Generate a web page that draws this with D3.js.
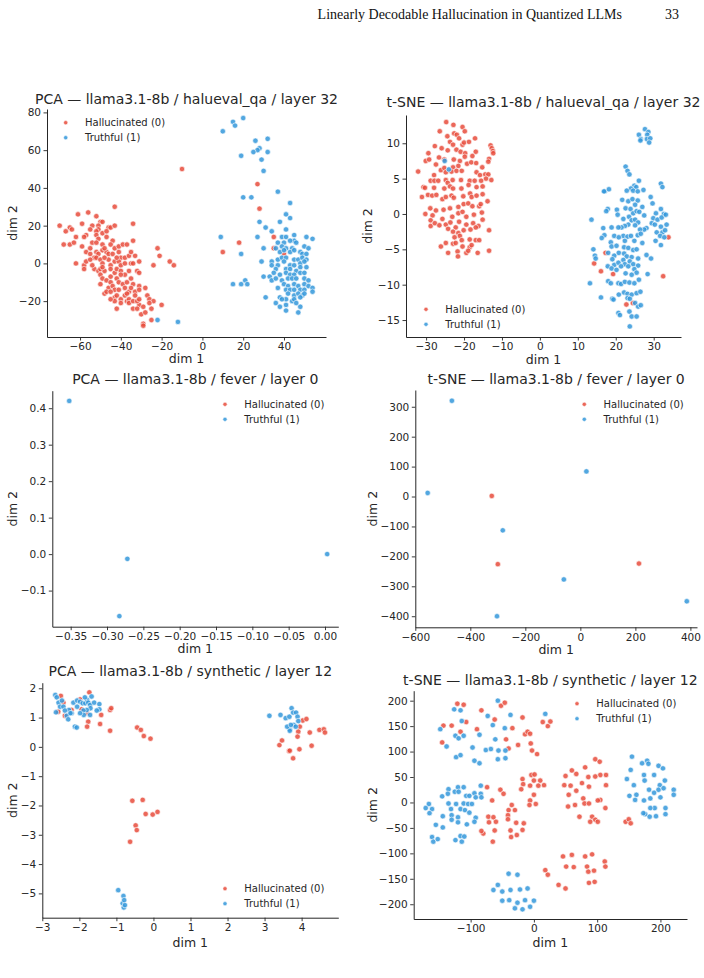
<!DOCTYPE html>
<html>
<head>
<meta charset="utf-8">
<script src="https://cdn.jsdelivr.net/npm/d3@7"></script>
<style>
  body { margin: 0; background: #fff; }
  svg { display: block; }
</style>
</head>
<body>
<div id="chart"></div>
<script>
// --- data ---------------------------------------------------------------
const seriesNames = ["Hallucinated (0)", "Truthful (1)"];

// PCA — halueval_qa / layer 32
const pcaHaluRed = [
  [-43,30],[-56,27],[-61,26],[-52,25],[-70,20],[-65,19],[-59,21],[-54,20],[-50,22],[-49,22],[-51,20],[-46,19],[-45,19],[-43,20],[-34,21],
  [-67,17],[-64,18],[-55,18],[-51,18],[-52,17],[-57,15],[-52,15],[-49,16],[-47,17],[-62,14],[-58,14],[-51,13],[-47,14],[-44,12],[-34,12],
  [-68,10],[-65,10],[-63,11],[-59,9],[-54,11],[-52,11],[-49,10],[-45,10],[-43,8],[-41,9],[-39,10],[-37,10],[-57,6],[-55,5],[-53,3],[-52,6],
  [-51,5],[-49,7],[-47,6],[-46,5],[-44,5],[-41,6],[-40,3],[-38,3],[-36,4],[-35,6],[-33,4],[-22,8],[-21,4],[-62,0],[-58,-1],[-57,1],[-55,2],
  [-52,3],[-50,2],[-49,0],[-46,2],[-45,-1],[-43,1],[-41,1],[-40,-1],[-38,0],[-35,0],[-34,0],[-31,1],[-24,-1],[-16,1],[-14,-1],[-58,-3],
  [-53,-3],[-51,-4],[-50,-3],[-48,-4],[-45,-3],[-43,-5],[-42,-3],[-40,-4],[-38,-6],[-36,-4],[-32,-4],[-31,-5],[-50,-6],[-49,-8],[-47,-9],
  [-45,-10],[-42,-8],[-41,-10],[-39,-11],[-37,-10],[-35,-8],[-34,-11],[-31,-12],[-28,-13],[-50,-11],[-46,-13],[-44,-12],[-43,-14],[-41,-14],
  [-38,-13],[-36,-15],[-33,-15],[-31,-14],[-48,-16],[-47,-15],[-45,-15],[-43,-18],[-40,-19],[-38,-17],[-37,-20],[-36,-19],[-33,-17],[-27,-17],
  [-26,-19],[-24,-20],[-43,-20],[-40,-21],[-36,-21],[-34,-20],[-31,-22],[-29,-23],[-34,-24],[-32,-24],[-26,-21],[-20,-22],[-42,-24],[-30,-27],
  [-28,-26],[-25,-24],[-25,-30],[-29,-32],[-29,-33],[-55,8],[-48,3],[-42,3],[-49,-2],[-45,-7],[-40,-6],[-42,-17],[-37,-16],[-35,-13],[-32,-20],
  [-31,-19],[-45,-19],[-54,-1],[-48,8],[-10,50],[27,42],[28,29],[18,11],[10,6],[35,14],[35,8],[40,5]
];
const pcaHaluBlue = [
  [20,77],[15,75],[16,73],[10,70],[26,65],[32,66],[28,61],[27,60],[25,59],[32,59],[19,57],[29,55],[30,49],[37,38],[20,35],[24,35],[43,32],
  [41,26],[43,24],[28,22],[38,22],[31,19],[41,18],[34,17],[9,14],[27,14],[19,5],[30,8],[29,1],[15,-11],[19,-11],[21,-9],[22,-11],[30,-7],
  [33,-7],[34,-9],[31,-18],[-22,-30],[-12,-31],
  [39,14],[41,14],[45,15],[45,12],[51,14],[54,13],[37,11],[40,11],[43,12],[46,11],[36,8],[39,9],[41,8],[44,8],[50,9],[52,8],[38,6],[40,7],
  [43,6],[45,7],[48,6],[49,5],[51,5],[34,1],[37,2],[39,3],[41,3],[45,2],[47,2],[49,3],[51,2],[34,-1],[37,-1],[40,1],[43,-1],[45,-1],[48,0],
  [50,1],[36,-3],[41,-3],[43,-3],[46,-4],[48,-2],[51,-2],[35,-5],[38,-6],[41,-5],[43,-6],[45,-6],[48,-5],[50,-5],[36,-8],[39,-9],[42,-8],
  [44,-8],[46,-8],[50,-8],[52,-9],[40,-11],[42,-12],[45,-11],[47,-12],[50,-11],[52,-12],[54,-13],[37,-13],[41,-14],[43,-14],[45,-14],[48,-14],
  [50,-14],[54,-15],[42,-16],[45,-17],[47,-16],[49,-17],[41,-19],[38,-18],[36,-21],[39,-19],[41,-22],[44,-20],[45,-19],[48,-18],[46,-21],
  [38,-23],[41,-25],[47,-26],[48,-23],[50,-16]
];

// t-SNE — halueval_qa / layer 32
const tsneHaluRed = [
  [-24.7,13.0],[-22.8,12.6],[-20.4,12.3],[-19.8,11.7],[-26.4,11.7],[-24.4,11.0],[-22.6,11.4],[-21.9,11.2],[-21.3,10.7],[-17.1,10.7],
  [-27.7,9.6],[-25.9,9.3],[-23.7,10.2],[-22.9,9.8],[-20.4,9.8],[-20.0,10.1],[-18.7,10.2],[-13.0,9.7],[-12.7,9.3],[-12.4,8.9],[-12.3,8.6],
  [-24.3,9.0],[-22.0,9.1],[-20.9,8.8],[-19.7,8.6],[-16.9,8.8],[-29.4,8.6],[-30.1,7.5],[-29.2,7.7],[-26.6,8.0],[-25.2,7.7],[-22.7,7.7],
  [-21.1,7.5],[-19.8,8.1],[-17.8,8.2],[-13.4,7.8],[-13.6,7.4],[-27.4,7.0],[-26.1,6.2],[-25.2,6.5],[-22.9,6.6],[-21.5,6.8],[-23.3,6.0],
  [-22.0,6.1],[-20.6,6.1],[-19.2,7.1],[-18.1,7.3],[-16.8,7.2],[-15.2,6.6],[-32.1,6.0],[-27.9,5.5],[-24.8,5.9],[-16.7,5.9],[-15.8,5.5],
  [-14.4,5.6],[-13.6,5.6],[-28.8,4.7],[-27.8,4.7],[-26.8,4.7],[-24.8,4.8],[-24.3,4.4],[-23.0,4.8],[-20.8,4.8],[-18.5,4.7],[-17.2,4.7],
  [-15.5,4.7],[-14.2,5.0],[-12.8,4.8],[-30.7,3.8],[-30.3,3.7],[-27.9,3.7],[-25.2,3.6],[-23.7,3.9],[-22.9,3.6],[-20.7,3.6],[-18.8,4.1],
  [-16.7,3.8],[-15.1,3.9],[-31.1,2.4],[-29.5,2.7],[-28.4,2.6],[-27.3,2.7],[-25.7,2.1],[-24.8,2.4],[-23.3,2.6],[-22.7,2.3],[-20.2,2.5],
  [-18.4,2.9],[-18.0,2.4],[-16.7,2.6],[-15.1,2.8],[-13.8,1.8],[-28.9,0.8],[-27.4,0.5],[-25.4,0.6],[-23.7,0.8],[-21.5,1.0],[-20.1,1.4],
  [-18.9,1.5],[-17.8,1.1],[-16.0,1.1],[-15.6,1.4],[-30.2,0.0],[-28.3,-0.2],[-25.7,-0.7],[-23.1,-0.4],[-21.5,0.1],[-20.4,0.3],[-19.4,-0.4],
  [-17.4,-0.1],[-15.3,0.2],[-28.8,-0.9],[-28.8,-1.7],[-27.7,-1.3],[-26.5,-1.6],[-24.8,-1.5],[-23.6,-1.2],[-22.2,-1.9],[-21.3,-1.1],
  [-19.4,-1.5],[-17.6,-1.3],[-16.2,-1.7],[-15.1,-0.8],[-24.2,-2.1],[-22.9,-2.5],[-21.5,-2.7],[-20.1,-2.3],[-18.3,-2.2],[-16.9,-1.9],
  [-13.4,-2.3],[-21.1,-3.1],[-22.5,-3.3],[-20.6,-3.7],[-18.5,-3.6],[-16.9,-3.7],[-16.0,-3.7],[-24.8,-4.1],[-26.1,-4.6],[-22.9,-4.2],
  [-22.2,-4.1],[-20.4,-4.6],[-18.5,-4.7],[-18.0,-4.4],[-13.4,-5.2],[-24.2,-5.5],[-21.7,-5.3],[-21.6,-6.0],[-19.4,-5.5],[-16.4,-5.5],
  [-18.9,-5.2],
  [33.9,-3.3],[17.3,-5.5],[14.3,-7.0],[16.1,-8.1],[19.3,-8.5],[32.5,-8.8],[22.8,-12.8],[24.5,-12.6]
];
const tsneHaluBlue = [
  [-25.1,7.5],[-24.0,6.3],
  [27.7,12.0],[28.6,11.6],[26.1,11.2],[28.3,11.2],[26.6,10.6],[28.2,10.6],[29.1,10.7],[28.8,10.1],[26.5,10.4],[22.6,6.7],[23.1,6.1],
  [23.6,5.6],[26.1,4.7],[24.9,4.0],[25.4,3.8],[24.0,3.6],[24.6,3.3],[25.8,3.2],[27.3,3.4],[22.9,3.3],[17.1,3.2],[18.2,3.5],[16.9,3.2],
  [31.9,4.3],[32.3,3.8],[29.2,2.4],[29.7,1.5],[21.7,2.0],[23.3,1.8],[24.4,2.1],[25.8,1.9],[25.1,1.3],[22.6,0.8],[23.9,0.7],[27.0,1.0],
  [17.9,0.7],[17.5,0.4],[20.3,0.6],[20.5,-0.1],[22.0,-0.7],[23.5,-0.4],[24.6,0.1],[25.5,0.4],[26.2,0.3],[27.5,-0.2],[30.6,0.1],[31.9,0.7],
  [32.7,0.0],[29.9,-0.6],[31.0,-0.8],[32.1,-0.5],[33.2,-0.1],[13.6,-0.8],[24.2,-0.9],[25.1,-0.8],[25.9,-1.2],[25.1,-1.6],[23.3,-1.5],
  [22.4,-1.7],[21.5,-1.9],[20.7,-1.9],[18.9,-1.9],[16.7,-2.0],[28.1,-2.0],[27.5,-2.2],[26.4,-2.2],[29.5,-1.3],[30.3,-1.5],[31.9,-1.8],
  [33.4,-1.5],[30.8,-2.6],[32.3,-2.6],[33.0,-2.3],[17.0,-3.0],[16.3,-3.4],[19.6,-3.1],[22.0,-3.1],[23.1,-3.2],[24.0,-3.1],[24.9,-3.8],
  [25.8,-3.0],[26.6,-2.8],[27.0,-4.1],[22.4,-3.8],[20.8,-3.3],[31.7,-3.1],[32.8,-3.3],[30.5,-3.8],[31.9,-4.4],[18.7,-4.0],[18.9,-4.6],
  [20.2,-4.5],[22.2,-4.7],[23.3,-4.8],[24.6,-5.1],[25.5,-5.0],[14.1,-5.0],[14.5,-5.9],[14.7,-6.3],[18.0,-5.5],[19.6,-5.9],[20.8,-5.5],
  [22.2,-5.6],[22.9,-6.0],[24.2,-6.1],[25.9,-6.3],[28.1,-5.8],[29.3,-6.3],[19.1,-6.4],[19.6,-7.2],[20.7,-6.9],[22.0,-6.5],[22.4,-7.1],
  [23.7,-6.7],[24.6,-7.1],[25.9,-7.3],[17.9,-7.4],[18.9,-7.7],[20.2,-7.9],[21.4,-7.4],[23.3,-7.4],[24.9,-7.8],[25.5,-8.3],[24.2,-8.6],
  [22.6,-8.4],[28.4,-8.5],[18.0,-9.5],[18.7,-9.8],[20.7,-9.8],[21.4,-9.9],[22.4,-9.6],[23.6,-9.7],[24.9,-9.8],[26.1,-9.3],[13.2,-9.8],
  [16.1,-11.8],[19.1,-12.0],[19.4,-12.1],[20.8,-11.4],[22.2,-11.1],[23.1,-11.3],[24.2,-11.4],[25.5,-11.2],[26.5,-11.0],[23.1,-11.9],
  [23.7,-12.0],[25.1,-12.6],[25.9,-13.1],[26.6,-12.9],[20.7,-14.0],[21.1,-14.3],[23.6,-13.8],[24.2,-14.5],[25.5,-14.5],[23.7,-15.9]
];

// PCA — fever / layer 0
const pcaFeverRed = [];
const pcaFeverBlue = [[-0.352,0.420],[-0.272,-0.013],[-0.283,-0.170],[0.003,0.0]];

// t-SNE — fever / layer 0
const tsneFeverRed = [[-322,2],[-300,-226],[213,-224]];
const tsneFeverBlue = [[-467,320],[-555,12],[-282,-113],[-303,-400],[-60,-277],[22,84],[387,-350]];

// PCA — synthetic / layer 12
const pcaSynthRed = [
  [-2.50,1.74],[-2.43,1.51],[-2.57,1.20],[-2.39,1.06],[-2.21,1.26],[-1.98,1.62],[-1.79,1.15],[-1.76,0.86],[-1.79,0.69],[-1.73,1.86],
  [-1.44,0.78],[-1.41,1.09],[-1.17,1.26],[-1.14,1.32],[-1.17,0.55],[-1.94,1.28],
  [-0.44,0.66],[-0.34,0.58],[-0.26,0.37],[-0.08,0.28],[-0.57,-1.84],[-0.29,-1.81],[-0.21,-2.29],[-0.02,-2.31],[0.11,-2.22],
  [-0.48,-2.68],[-0.45,-2.84],[-0.63,-3.24],
  [3.95,0.69],[4.03,0.90],[4.13,0.95],[3.91,0.52],[3.89,0.35],[3.40,0.06],[3.47,0.22],[3.66,-0.14],[3.77,-0.39],[3.94,-0.08],
  [4.22,0.49],[4.27,0.04],[4.48,0.58],[4.60,0.60],[4.63,0.49],[3.68,-0.13]
];
const pcaSynthBlue = [
  [-2.65,1.77],[-2.61,1.69],[-2.56,1.51],[-2.47,1.58],[-2.52,1.37],[-2.43,1.37],[-2.63,1.18],[-2.28,1.26],[-2.34,1.06],[-2.30,0.94],
  [-2.21,1.15],[-2.16,1.51],[-2.06,1.37],[-2.06,1.58],[-1.98,1.54],[-1.91,1.49],[-1.84,1.49],[-1.79,1.60],[-1.76,1.51],[-1.71,1.43],
  [-1.67,1.72],[-1.60,1.51],[-1.46,1.46],[-1.70,1.32],[-1.80,1.26],[-1.89,1.24],[-1.88,1.09],[-1.98,1.15],[-1.71,1.09],[-2.12,0.69],
  [-2.07,0.66],[-1.46,1.28],[-1.53,1.24],[-1.85,1.69],[-2.24,1.15],[-2.39,1.24],
  [-0.95,-4.89],[-0.81,-5.09],[-0.83,-5.34],[-0.80,-5.48],[-0.77,-5.40],[-0.79,-5.23],
  [3.13,1.06],[3.43,1.09],[3.57,0.98],[3.67,1.03],[3.73,1.32],[3.77,1.17],[3.85,1.17],[3.89,1.03],[3.91,0.88],[3.79,0.75],[3.68,0.60],
  [3.68,0.55],[3.84,0.69],[3.61,0.69],[3.71,0.75]
];

// t-SNE — synthetic / layer 12
const tsneSynthRed = [
  [-121,194],[-111,192],[-130,151],[-143,151],[-145,118],[-116,139],[-107,158],[-83,181],[-90,144],[-62,163],[-52,190],[-46,196],
  [-34,146],[-44,124],[-40,106],[-18,167],[-25,113],[-14,134],[-10,139],[-6,135],[-5,116],[-3,102],[5,95],[14,158],[22,150],[26,159],
  [-74,30],[-53,25],[-48,17],[-66,4],[-35,-5],[-30,-15],[-40,-15],[-72,-28],[-64,-29],[-60,-38],[-71,-39],[-80,-61],[-83,-56],[-62,-55],
  [-65,-77],[-41,-25],[-28,-40],[-41,-33],[-37,-55],[-36,-68],[-27,-64],[-16,-41],[-18,-54],
  [-18,46],[-17,36],[-20,26],[-4,54],[1,55],[0,43],[10,43],[16,34],[7,33],[-6,33],[-6,4],[3,-3],[-7,-5],[0,15],
  [97,85],[104,80],[81,69],[105,54],[114,54],[114,34],[67,56],[60,63],[50,52],[48,34],[58,33],[76,38],[87,31],[86,50],[97,51],[55,15],
  [67,23],[78,8],[80,-2],[87,-2],[105,5],[113,-11],[101,4],[54,-8],[65,-5],[72,-28],[92,-28],[97,-34],[89,-38],[101,-38],[145,-38],
  [150,-33],[153,-41],
  [18,-133],[22,-142],[39,-162],[50,-169],[46,-106],[60,-103],[51,-126],[63,-127],[81,-106],[92,-102],[84,-126],[86,-136],[95,-134],
  [87,-158],[96,-156],[112,-116],[113,-126]
];
const tsneSynthBlue = [
  [-126,183],[-116,181],[-148,144],[-138,110],[-124,131],[-119,126],[-111,131],[-114,160],[-123,89],[-116,93],[-97,108],[-94,82],
  [-86,77],[-86,133],[-73,170],[-65,152],[-61,124],[-76,103],[-68,105],[-57,200],[-37,172],[-46,146],[-56,102],[-45,102],[-57,85],
  [-45,87],[18,174],
  [-166,-3],[-171,-11],[-161,-13],[-165,-21],[-145,12],[-135,26],[-136,17],[-120,30],[-111,30],[-125,21],[-119,21],[-107,13],[-102,13],
  [-94,18],[-92,10],[-84,17],[-84,33],[-83,10],[-135,-2],[-123,-3],[-111,-2],[-104,-3],[-98,-3],[-131,-13],[-116,-13],[-109,-15],
  [-144,-27],[-130,-25],[-120,-29],[-102,-20],[-92,-30],[-94,-38],[-130,-34],[-120,-39],[-106,-43],[-155,-44],[-144,-49],[-161,-68],
  [-159,-77],[-152,-72],[-124,-74],[-116,-66],[-114,-77],[-110,-67],
  [155,90],[153,64],[147,46],[158,34],[151,13],[162,15],[160,5],[171,77],[179,82],[181,76],[174,54],[175,43],[190,54],[197,72],[204,67],
  [207,43],[199,34],[182,25],[190,19],[197,25],[205,28],[221,25],[221,15],[200,10],[184,8],[174,4],[176,-23],[183,-28],[191,-11],
  [193,-27],[208,-11],[208,-23],[184,-11],[173,-21],
  [-40,-140],[-26,-142],[-57,-162],[-64,-172],[-50,-175],[-37,-172],[-22,-171],[-10,-169],[-50,-193],[-39,-192],[-26,-197],[-14,-192],
  [0,-193],[-30,-208],[-18,-210],[-6,-205]
];

// axis limits and ticks
const pcaHaluX = [-76.2, 60.6], pcaHaluY = [-39, 81.8];
const pcaHaluXTicks = [-60, -40, -20, 0, 20, 40], pcaHaluYTicks = [-20, 0, 20, 40, 60, 80];
const tsneHaluX = [-35.3, 37.2], tsneHaluY = [-17.4, 14.0];
const tsneHaluXTicks = [-30, -20, -10, 0, 10, 20, 30], tsneHaluYTicks = [-15, -10, -5, 0, 5, 10];
const pcaFeverX = [-0.3753, 0.0183], pcaFeverY = [-0.199, 0.448];
const pcaFeverXTicks = [-0.35, -0.30, -0.25, -0.20, -0.15, -0.10, -0.05, 0.00], pcaFeverYTicks = [-0.1, 0.0, 0.1, 0.2, 0.3, 0.4];
const tsneFeverX = [-600, 424], tsneFeverY = [-437, 356];
const tsneFeverXTicks = [-600, -400, -200, 0, 200, 400], tsneFeverYTicks = [-400, -300, -200, -100, 0, 100, 200, 300];
const pcaSynthX = [-3.0, 4.99], pcaSynthY = [-5.83, 2.19];
const pcaSynthXTicks = [-3, -2, -1, 0, 1, 2, 3, 4], pcaSynthYTicks = [-5, -4, -3, -2, -1, 0, 1, 2];
const tsneSynthX = [-190, 242], tsneSynthY = [-229, 219.6];
const tsneSynthXTicks = [-100, 0, 100, 200], tsneSynthYTicks = [-200, -150, -100, -50, 0, 50, 100, 150, 200];

// --- layout -------------------------------------------------------------
const W = 704, H = 978;
const RED = "#e74c3c", BLUE = "#3498db", INK = "#262626";
const FONT = "'DejaVu Sans', sans-serif";

const panels = [
  { title: "PCA — llama3.1-8b / halueval_qa / layer 32", red: pcaHaluRed, blue: pcaHaluBlue,
    xd: pcaHaluX, yd: pcaHaluY, xt: pcaHaluXTicks, yt: pcaHaluYTicks, xf: "d", yf: "d",
    box: [47, 109, 326, 337], titleY: 103.5, xlabY: 363, ylabX: 17, leg: [65.7, 122.7] },
  { title: "t-SNE — llama3.1-8b / halueval_qa / layer 32", red: tsneHaluRed, blue: tsneHaluBlue,
    xd: tsneHaluX, yd: tsneHaluY, xt: tsneHaluXTicks, yt: tsneHaluYTicks, xf: "d", yf: "d",
    box: [406, 115, 681, 337], titleY: 107, xlabY: 364, ylabX: 372, leg: [426, 309.3] },
  { title: "PCA — llama3.1-8b / fever / layer 0", red: pcaFeverRed, blue: pcaFeverBlue,
    xd: pcaFeverX, yd: pcaFeverY, xt: pcaFeverXTicks, yt: pcaFeverYTicks, xf: ".2f", yf: ".1f",
    box: [52.3, 390.7, 338.3, 626.7], titleY: 384, xlabY: 653, ylabX: 17, leg: [225, 404.3] },
  { title: "t-SNE — llama3.1-8b / fever / layer 0", red: tsneFeverRed, blue: tsneFeverBlue,
    xd: tsneFeverX, yd: tsneFeverY, xt: tsneFeverXTicks, yt: tsneFeverYTicks, xf: "d", yf: "d",
    box: [415.3, 390, 697, 627.3], titleY: 384, xlabY: 654, ylabX: 377, leg: [584.3, 404.3] },
  { title: "PCA — llama3.1-8b / synthetic / layer 12", red: pcaSynthRed, blue: pcaSynthBlue,
    xd: pcaSynthX, yd: pcaSynthY, xt: pcaSynthXTicks, yt: pcaSynthYTicks, xf: "d", yf: "d",
    box: [42.3, 682.7, 338.3, 917.7], titleY: 676, xlabY: 947, ylabX: 17, leg: [225, 888.7] },
  { title: "t-SNE — llama3.1-8b / synthetic / layer 12", red: tsneSynthRed, blue: tsneSynthBlue,
    xd: tsneSynthX, yd: tsneSynthY, xt: tsneSynthXTicks, yt: tsneSynthYTicks, xf: "d", yf: "d",
    box: [413.7, 690.7, 687, 919], titleY: 685, xlabY: 947, ylabX: 377, leg: [577, 703.7] }
];

const svg = d3.select("#chart").append("svg")
    .attr("width", W)
    .attr("height", H)
    .attr("viewBox", `0 0 ${W} ${H}`);

// running page header
svg.append("text")
    .attr("x", 622).attr("y", 19)
    .attr("text-anchor", "end")
    .style("font-family", "'Liberation Serif', serif")
    .style("font-size", "14px")
    .attr("fill", "#111")
    .text("Linearly Decodable Hallucination in Quantized LLMs");
svg.append("text")
    .attr("x", 679).attr("y", 19)
    .attr("text-anchor", "end")
    .style("font-family", "'Liberation Serif', serif")
    .style("font-size", "14px")
    .attr("fill", "#111")
    .text("33");

function styleAxis(g) {
  g.attr("font-family", null).attr("font-size", null);
  g.select(".domain").attr("stroke", INK).attr("stroke-width", 1);
  g.selectAll(".tick line").attr("stroke", INK).attr("stroke-width", 0.9);
  g.selectAll(".tick text")
      .attr("fill", INK)
      .style("font-family", FONT)
      .style("font-size", "10.5px");
}

function drawPanel(p) {
  const [x0, y0, x1, y1] = p.box;
  const x = d3.scaleLinear().domain(p.xd).range([x0, x1]);
  const y = d3.scaleLinear().domain(p.yd).range([y1, y0]);
  const g = svg.append("g");

  g.append("g")
      .attr("transform", `translate(0,${y1})`)
      .call(d3.axisBottom(x).tickValues(p.xt).tickFormat(d3.format(p.xf))
          .tickSize(3.5).tickSizeOuter(0).tickPadding(2.5))
      .call(styleAxis);

  g.append("g")
      .attr("transform", `translate(${x0},0)`)
      .call(d3.axisLeft(y).tickValues(p.yt).tickFormat(d3.format(p.yf))
          .tickSize(3.5).tickSizeOuter(0).tickPadding(2.5))
      .call(styleAxis);

  // points: hallucinated first, truthful on top
  [[p.red, RED], [p.blue, BLUE]].forEach(([pts, col]) => {
    g.append("g").selectAll("circle")
        .data(pts)
        .join("circle")
        .attr("cx", d => x(d[0]))
        .attr("cy", d => y(d[1]))
        .attr("r", 2.7)
        .attr("fill", col)
        .attr("fill-opacity", 0.85)
        .attr("stroke", "#fff")
        .attr("stroke-width", 0.6);
  });

  // title and axis labels
  g.append("text")
      .attr("x", (x0 + x1) / 2).attr("y", p.titleY)
      .attr("text-anchor", "middle")
      .style("font-family", FONT).style("font-size", "14px")
      .attr("fill", INK)
      .text(p.title);

  g.append("text")
      .attr("x", (x0 + x1) / 2).attr("y", p.xlabY)
      .attr("text-anchor", "middle")
      .style("font-family", FONT).style("font-size", "12.5px")
      .attr("fill", INK)
      .text("dim 1");

  g.append("text")
      .attr("transform", `translate(${p.ylabX},${(y0 + y1) / 2}) rotate(-90)`)
      .attr("text-anchor", "middle")
      .style("font-family", FONT).style("font-size", "12.5px")
      .attr("fill", INK)
      .text("dim 2");

  // legend
  const leg = g.append("g").attr("transform", `translate(${p.leg[0]},${p.leg[1]})`);
  seriesNames.forEach((name, i) => {
    leg.append("circle")
        .attr("cx", 0).attr("cy", i * 15)
        .attr("r", 2.1)
        .attr("fill", i === 0 ? RED : BLUE)
        .attr("fill-opacity", 0.85)
        .attr("stroke", "#fff")
        .attr("stroke-width", 0.5);
    leg.append("text")
        .attr("x", 19.3).attr("y", i * 15 + 3.6)
        .style("font-family", FONT).style("font-size", "10px")
        .attr("fill", INK)
        .text(name);
  });
}

panels.forEach(drawPanel);
</script>
</body>
</html>
